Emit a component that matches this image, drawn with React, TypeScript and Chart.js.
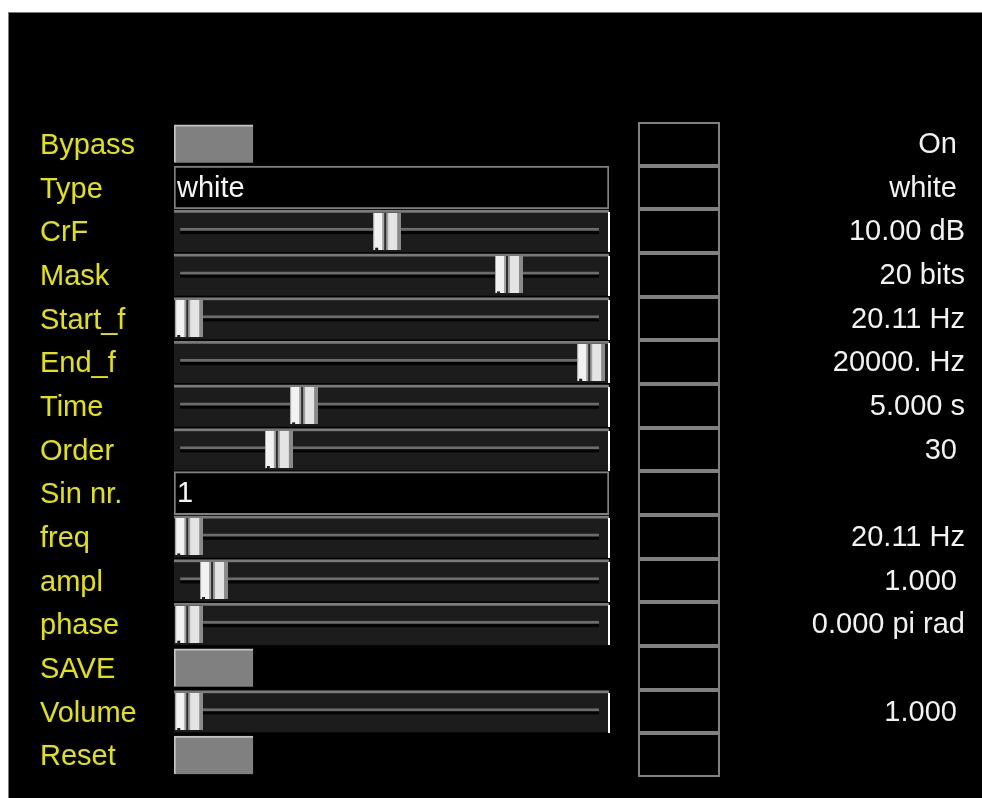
import React, { useEffect, useRef } from 'react';
import { Chart, registerables } from 'chart.js';

Chart.register(...registerables);

// ---- data ----
const ROW_LABELS = ['Bypass', 'Type', 'CrF', 'Mask', 'Start_f', 'End_f', 'Time', 'Order', 'Sin nr.', 'freq', 'ampl', 'phase', 'SAVE', 'Volume', 'Reset'];
const ROW_VALUES = ['On ', 'white ', '10.00 dB', '20 bits', '20.11 Hz', '20000. Hz', '5.000 s', '30 ', '', '20.11 Hz', '1.000 ', '0.000 pi rad', '', '1.000 ', ''];
const SLIDER_ROWS = ['CrF', 'Mask', 'Start_f', 'End_f', 'Time', 'Order', 'freq', 'ampl', 'phase', 'Volume'];
const SLIDER_POSITIONS = [0.49, 0.77, 0.035, 0.959, 0.299, 0.241, 0.035, 0.092, 0.035, 0.035];
const BUTTON_ROWS = ['Bypass', 'SAVE', 'Reset'];
const BUTTON_EXTENT = [0, 0.182];
const TEXT_ROWS = ['Type', 'Sin nr.'];
const TEXT_CONTENT = ['white', '1'];
const TRACK_EXTENT = [0, 1];
const GROOVE_EXTENT = [0.014, 0.977];

const FONT = "'Liberation Sans', Arial, sans-serif";
const FONT_SIZE = 29;

function makeThumb(): HTMLCanvasElement {
  const c = document.createElement('canvas');
  c.width = 28;
  c.height = 37;
  const g = c.getContext('2d')!;
  const segs: [number, number, string][] = [
    [0, 1, '#a8a8a8'],
    [1, 9, '#f2f2f2'],
    [9, 11, '#a4a4a4'],
    [11, 13, '#2e2e2e'],
    [13, 15, '#9c9c9c'],
    [15, 24, '#e4e4e4'],
    [24, 28, '#8a8a8a'],
  ];
  segs.forEach(([a, b, col]) => {
    g.fillStyle = col;
    g.fillRect(a, 0, b - a, 37);
  });
  g.fillStyle = '#202020';
  g.fillRect(2, 35, 3, 2);
  return c;
}

const panelPlugin = {
  id: 'panel',
  beforeDraw(chart: any) {
    const { ctx, width, height } = chart;
    ctx.save();
    ctx.fillStyle = '#ffffff';
    ctx.fillRect(0, 0, width, height);
    ctx.fillStyle = '#000000';
    ctx.fillRect(8, 12, width - 8, height - 12);
    ctx.fillStyle = '#7a7a7a';
    ctx.fillRect(8, 12, width - 8, 1);
    ctx.fillRect(8, 12, 1, height - 12);
    ctx.restore();
  },
  afterDatasetsDraw(chart: any) {
    const { ctx, chartArea } = chart;
    const yScale = chart.scales.y;
    ctx.save();
    // white right edge of slider tracks
    const trackMeta = chart.getDatasetMeta(0);
    trackMeta.data.forEach((el: any, i: number) => {
      if (!chart.data.datasets[0].data[i]) return;
      const h = el.height;
      ctx.fillStyle = '#ffffff';
      ctx.fillRect(Math.round(el.x) - 1, Math.round(el.y - h / 2) + 2, 2, Math.round(h) - 2);
    });
    // text content of text boxes
    ctx.fillStyle = '#f4f4f4';
    ctx.font = `${FONT_SIZE}px ${FONT}`;
    ctx.textAlign = 'left';
    ctx.textBaseline = 'middle';
    TEXT_ROWS.forEach((r, i) => {
      const y = yScale.getPixelForValue(ROW_LABELS.indexOf(r));
      ctx.fillText(TEXT_CONTENT[i], chartArea.left + 3, y + 1);
    });
    // empty boxes column
    const pitch = (chartArea.bottom - chartArea.top) / ROW_LABELS.length;
    const bx = Math.round(chartArea.right + 29);
    const bw = 82;
    ROW_LABELS.forEach((_, i) => {
      const yc = yScale.getPixelForValue(i);
      const top = Math.round(yc - pitch / 2);
      const bot = Math.round(yc + pitch / 2);
      ctx.fillStyle = '#808080';
      ctx.fillRect(bx, top, bw, 2);
      ctx.fillRect(bx, bot - 2, bw, 2);
      ctx.fillRect(bx, top, 2, bot - top);
      ctx.fillRect(bx + bw - 2, top, 2, bot - top);
    });
    ctx.restore();
  },
};

export default function App() {
  const ref = useRef<HTMLCanvasElement | null>(null);

  useEffect(() => {
    if (!ref.current) return;
    const thumb = makeThumb();
    const rowData = (rows: string[], extent: number[]) =>
      ROW_LABELS.map((l) => (rows.includes(l) ? [extent[0], extent[1]] : null));

    const chart = new Chart(ref.current, {
      type: 'bar',
      data: {
        labels: ROW_LABELS,
        datasets: [
          {
            label: 'track',
            data: rowData(SLIDER_ROWS, TRACK_EXTENT) as any,
            backgroundColor: '#1c1c1c',
            borderColor: '#7a7a7a',
            borderWidth: { top: 3, left: 0, right: 0, bottom: 0 },
            borderSkipped: false,
            barThickness: 42,
            grouped: false,
            order: 5,
          } as any,
          {
            label: 'groove',
            data: rowData(SLIDER_ROWS, GROOVE_EXTENT) as any,
            backgroundColor: '#030303',
            borderColor: '#6c6c6c',
            borderWidth: { top: 3, left: 0, right: 0, bottom: 0 },
            borderSkipped: false,
            barThickness: 6,
            grouped: false,
            order: 3,
          } as any,
          {
            label: 'textbox',
            data: rowData(TEXT_ROWS, TRACK_EXTENT) as any,
            backgroundColor: '#000000',
            borderColor: '#808080',
            borderWidth: 2,
            borderSkipped: false,
            barThickness: 43,
            grouped: false,
            order: 5,
          } as any,
          {
            label: 'button',
            data: rowData(BUTTON_ROWS, BUTTON_EXTENT) as any,
            backgroundColor: '#808080',
            borderColor: '#c4c4c4',
            borderWidth: { top: 2, left: 2, right: 0, bottom: 0 },
            borderSkipped: false,
            barThickness: 38,
            grouped: false,
            order: 5,
          } as any,
          {
            type: 'line',
            label: 'thumb',
            indexAxis: 'y',
            data: SLIDER_ROWS.map((r, i) => ({ x: SLIDER_POSITIONS[i], y: r })) as any,
            showLine: false,
            pointStyle: thumb as any,
            pointRadius: 14,
            pointHoverRadius: 14,
            pointBorderWidth: 0,
            clip: false as any,
            order: 0,
          } as any,
        ],
      },
      options: {
        indexAxis: 'y',
        responsive: false,
        animation: false,
        events: [],
        layout: { padding: { left: 40, right: 17, top: 122, bottom: 21 } },
        plugins: { legend: { display: false }, tooltip: { enabled: false } },
        scales: {
          x: { type: 'linear', display: false, min: 0, max: 1 },
          y: {
            type: 'category',
            position: 'left',
            offset: true,
            grid: { display: false },
            border: { display: false },
            ticks: {
              autoSkip: false,
              crossAlign: 'far',
              padding: 0,
              labelOffset: 2,
              color: '#e4e400',
              font: { family: FONT, size: FONT_SIZE },
            },
            afterFit: (s: any) => {
              s.width = 134;
            },
          },
          y2: {
            type: 'category',
            position: 'right',
            labels: ROW_VALUES,
            offset: true,
            grid: { display: false },
            border: { display: false },
            ticks: {
              autoSkip: false,
              crossAlign: 'far',
              padding: 0,
              labelOffset: 1,
              color: '#f2f2f2',
              font: { family: FONT, size: FONT_SIZE },
            },
            afterFit: (s: any) => {
              s.width = 356;
            },
          },
        },
      } as any,
      plugins: [panelPlugin],
    });
    return () => chart.destroy();
  }, []);

  return (
    <div style={{ position: 'fixed', left: 0, top: 0, width: 982, height: 798 }}>
      <canvas ref={ref} width={982} height={798} style={{ display: 'block' }} />
    </div>
  );
}
